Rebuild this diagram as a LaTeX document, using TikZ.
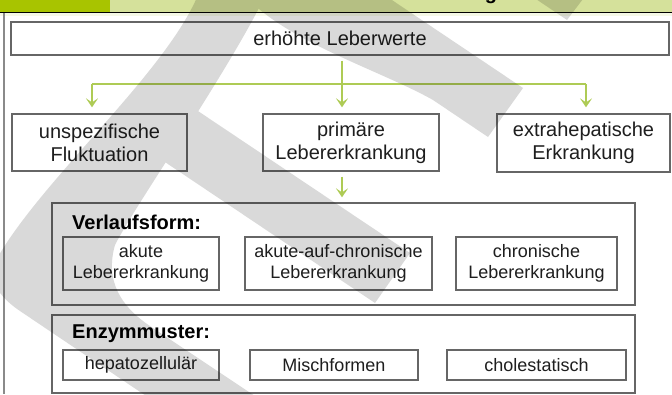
\documentclass[tikz,border=0pt]{standalone}
\usepackage{fontspec}
\setmainfont{Liberation Sans}
\usetikzlibrary{arrows.meta,shadows}
\definecolor{hdrdark}{HTML}{A8C400}
\definecolor{hdrlight}{HTML}{D5E19B}
\definecolor{boxline}{HTML}{666666}
\definecolor{txt}{HTML}{1E1E1E}
\definecolor{conngreen}{HTML}{AECB55}
\definecolor{framegray}{HTML}{8A8A8A}
\begin{document}
\begin{tikzpicture}[x=1pt,y=-1pt,
  box/.style={draw=boxline,line width=1.3pt,fill=white,inner sep=0pt,align=center,text=txt,
    drop shadow={opacity=0.25,shadow xshift=0.8pt,shadow yshift=-0.8pt}},
  bigtxt/.style={font=\fontsize{20}{23}\selectfont},
  toptxt/.style={font=\fontsize{20}{23}\selectfont},
  smalltxt/.style={font=\fontsize{18}{21}\selectfont},
  grouplabel/.style={anchor=west,inner sep=0pt,text=black,font=\bfseries\fontsize{20}{23}\selectfont},
  conn/.style={draw=conngreen,line width=2pt},
  arr/.style={conn,-{Stealth[length=9pt,width=12pt,inset=4pt]}},
  wmark/.style={fill=black}
]
\useasboundingbox (0,0) rectangle (672,394);
% header
\fill[hdrlight] (0,0) rectangle (672,12);
\fill[hdrdark] (0,0) rectangle (110,12);
\node[anchor=base,inner sep=0pt,font=\bfseries\fontsize{20}{20}\selectfont] (hdrg) at (491,-1) {g};
\draw[black,line width=1pt] (0,12.5) -- (672,12.5);
\fill[hdrlight!25] (0,13) rectangle (672,16);
\draw[framegray,line width=1.5pt] (4,13) -- (4,394);

% top box
\node[box,toptxt,minimum width=658pt,minimum height=33pt] (top) at (340,38.5) {erhöhte Leberwerte};
% second row
\node[box,bigtxt,minimum width=175pt,minimum height=57pt] (unspez) at (99.5,142.5) {unspezifische\\Fluktuation};
\node[box,bigtxt,minimum width=176pt,minimum height=57pt] (prim) at (351,142.5) {primäre\\Lebererkrankung};
\node[box,bigtxt,minimum width=173pt,minimum height=58pt] (extra) at (583.5,143) {extrahepatische\\Erkrankung};

% Verlaufsform group
\node[box,minimum width=583pt,minimum height=102pt] (verl) at (343.5,254) {};
\node[grouplabel] (verllab) at (72,222) {Verlaufsform:};
\node[box,smalltxt,minimum width=156pt,minimum height=53pt] (akut) at (141,263.5) {akute\\Lebererkrankung};
\node[box,smalltxt,minimum width=187pt,minimum height=53pt] (aac) at (338.5,263.5) {akute-auf-chronische\\Lebererkrankung};
\node[box,smalltxt,minimum width=161pt,minimum height=53pt] (chron) at (536.5,263.5) {chronische\\Lebererkrankung};

% Enzymmuster group
\node[box,minimum width=583pt,minimum height=78pt] (enz) at (343.5,354) {};
\node[grouplabel] (enzlab) at (72,334) {Enzymmuster:};
\node[box,smalltxt,minimum width=156pt,minimum height=30pt] (hepa) at (141,365) {hepatozellulär};
\node[box,smalltxt,minimum width=168pt,minimum height=30pt] (misch) at (334,365) {Mischformen};
\node[box,smalltxt,minimum width=179pt,minimum height=30pt] (chol) at (536.5,365) {cholestatisch};

% connectors
\coordinate (jm) at (342,84);
\coordinate (jl) at (92,84);
\coordinate (jr) at (586,84);
\draw[conn,shorten <=5pt] (top.south -| jm) -- (jm);
\draw[conn] (jl) -- (jr);
\draw[arr,shorten >=6pt] (jl) -- (jl |- unspez.north);
\draw[arr,shorten >=6pt] (jm) -- (jm |- prim.north);
\draw[arr,shorten >=6pt] (jr) -- (jr |- extra.north);
\draw[arr,shorten <=5pt,shorten >=5pt] (prim.south -| jm) -- (jm |- verl.north);

% watermark (semi-transparent gray swoosh)
\begin{scope}[transparency group,opacity=0.15]
  % big arc with lower band
  \fill[wmark] (200,-10) .. controls (170,70) and (40,180) .. (-5,262)
     .. controls (-15,282) and (5,301) .. (20,311) -- (164,408) -- (273,408)
     -- (150,326) .. controls (120,306) and (105,280) .. (115,245)
     .. controls (135,205) and (230,70) .. (268,-10) -- cycle;
  % middle band ending in a tip
  \fill[wmark] (150,152) -- (375,303) -- (410,253) -- (180,99) -- cycle;
  % upper band ending in a tip
  \fill[wmark] (240,-10) -- (377,-10) -- (523,88) -- (488,137) -- (433,100)
     .. controls (380,70) and (280,40) .. (240,-10) -- cycle;
  % small tip at the top right
  \fill[wmark] (530,-5) -- (586,-5) -- (567,20) -- cycle;
\end{scope}
\end{tikzpicture}
\end{document}
